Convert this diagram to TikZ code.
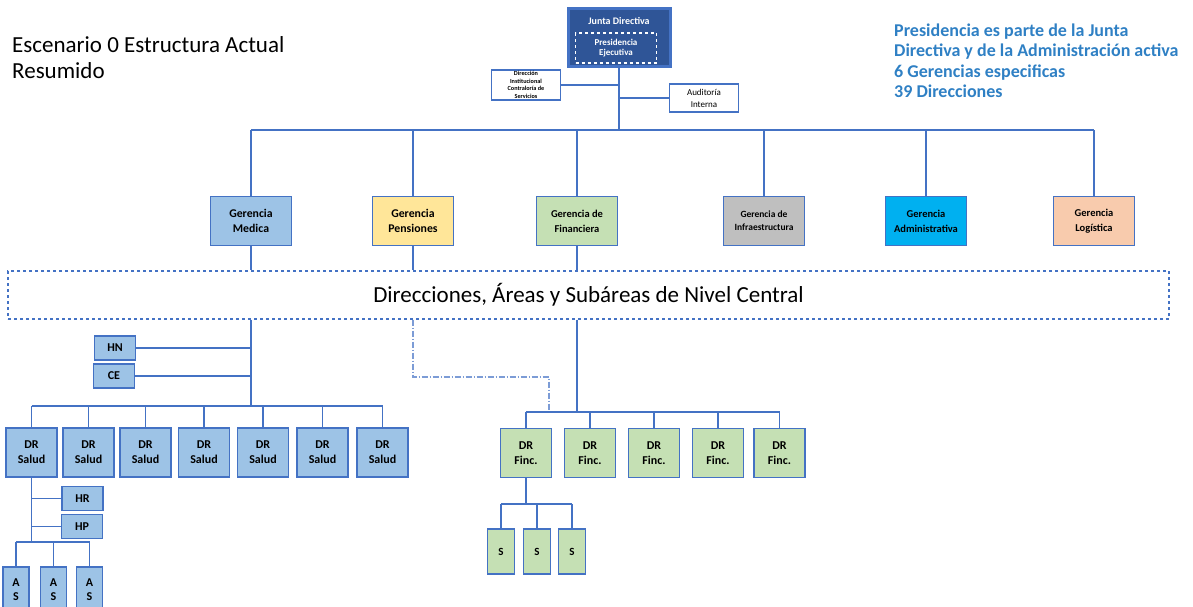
\documentclass[tikz,border=0pt]{standalone}
\usepackage{fontspec}
\setmainfont{Carlito}
\usetikzlibrary{positioning}
\definecolor{bdr}{RGB}{68,114,196}
\definecolor{azul}{RGB}{157,195,230}
\definecolor{amar}{RGB}{255,230,153}
\definecolor{verde}{RGB}{197,224,180}
\definecolor{gris}{RGB}{191,191,191}
\definecolor{cian}{RGB}{0,176,240}
\definecolor{salmon}{RGB}{248,203,173}
\definecolor{junta}{RGB}{47,85,151}
\definecolor{nota}{RGB}{47,128,196}
\tikzset{
  box/.style={draw=bdr, line width=1.6pt, align=center, inner sep=0pt,
    font=\bfseries\fontsize{12}{15}\selectfont},
  gerencia/.style={box, minimum width=81pt, minimum height=49pt,
    font=\bfseries\fontsize{10.5}{15}\selectfont},
  salud/.style={box, fill=azul, minimum width=51pt, minimum height=49pt},
  finc/.style={box, fill=verde, minimum width=51pt, minimum height=49pt},
  chico/.style={box, fill=azul, minimum width=41pt, minimum height=24pt},
  link/.style={draw=bdr, line width=1.8pt},
  punteada/.style={draw=bdr!70, line width=1.2pt, dash pattern=on 6pt off 2pt on 1pt off 2pt}
}
\begin{document}
\begin{tikzpicture}[x=1pt,y=-1pt]
\useasboundingbox (0,0) rectangle (1193,607);

% encabezado y nota
\node[anchor=base west, align=left, inner sep=0pt, font=\fontsize{23}{26}\selectfont] (titulo) at (12,79) {Escenario 0 Estructura Actual\\Resumido};
\node[anchor=base west, align=left, inner sep=0pt, text=nota, font=\bfseries\fontsize{18}{20.5}\selectfont] (nota) at (894,98)
  {Presidencia es parte de la Junta\\Directiva y de la Administración activa\\6 Gerencias especificas\\39 Direcciones};

% junta directiva
\node[fill=junta, draw=bdr, line width=3pt, minimum width=102pt, minimum height=58pt] (jd) at (619,38) {};
\node[text=white, font=\bfseries\fontsize{10}{12}\selectfont] (jdt) at (619,21) {Junta Directiva};
\node[draw=white, dashed, line width=1.2pt, minimum width=81pt, minimum height=30pt, inner sep=0pt, align=center,
  text=white, font=\bfseries\fontsize{9}{10}\selectfont] (pe) at (616,48) {Presidencia\\Ejecutiva};
\node[box, fill=white, minimum width=69pt, minimum height=30pt, font=\bfseries\fontsize{6.2}{7.5}\selectfont] (dic) at (526,85)
  {Dirección\\Institucional\\Contraloría de\\Servicios};
\node[box, fill=white, minimum width=69pt, minimum height=28pt, font=\fontsize{9}{12}\selectfont] (ai) at (704,98) {Auditoría\\Interna};

\coordinate (barra) at (0,130);
\draw[link] (jd.south) -- (jd.south |- barra);
\draw[link] (dic.east) -- (dic.east -| jd.south);
\draw[link] (ai.west) -- (ai.west -| jd.south);

% gerencias
\node[gerencia, fill=azul, font=\bfseries\fontsize{11.8}{15}\selectfont] (gm) at (251,221) {Gerencia\\Medica};
\node[gerencia, fill=amar, font=\bfseries\fontsize{11.8}{15}\selectfont] (gp) at (413,221) {Gerencia\\Pensiones};
\node[gerencia, fill=verde] (gf) at (577,221) {Gerencia de\\Financiera};
\node[gerencia, fill=gris, font=\bfseries\fontsize{9.5}{13}\selectfont] (gi) at (764,221) {Gerencia de\\Infraestructura};
\node[gerencia, fill=cian] (ga) at (926,221) {Gerencia\\Administrativa};
\node[gerencia, fill=salmon] (gl) at (1094,221) {Gerencia\\Logística};

\draw[link] (gm.north |- barra) -- (gl.north |- barra);
\foreach \g in {gm,gp,gf,gi,ga,gl}
  \draw[link] (\g.north) -- (\g.north |- barra);

% nivel central
\node[draw=bdr, dashed, line width=1.2pt, minimum width=1161pt, minimum height=48pt,
  font=\fontsize{23}{26}\selectfont] (dc) at (588.5,295) {Direcciones, Áreas y Subáreas de Nivel Central};
\foreach \g in {gm,gp,gf}
  \draw[link] (\g.south) -- (\g.south |- dc.north);

% bloque medico
\coordinate (bs) at (0,406);
\draw[link] (gm.south |- dc.south) -- (gm.south |- bs);
\node[chico] (hn) at (115,348) {HN};
\node[chico] (ce) at (114,376) {CE};
\draw[link] (hn.east) -- (hn.east -| gm.south);
\draw[link] (ce.east) -- (ce.east -| gm.south);

\foreach \i/\x in {1/31.5,2/88.5,3/145.5,4/204,5/263,6/322.5,7/382.5}
  \node[salud] (s\i) at (\x,452.5) {DR\\Salud};
\draw[link] (s1.north |- bs) -- (s7.north |- bs);
\foreach \i in {1,...,7}
  \draw[link] (s\i.north) -- (s\i.north |- bs);

\coordinate (bas) at (0,542);
\draw[link] (s1.south) -- (s1.south |- bas);
\node[chico] (hr) at (82.5,498.5) {HR};
\node[chico] (hp) at (82,526.5) {HP};
\draw[link] (hr.west) -- (hr.west -| s1.south);
\draw[link] (hp.west) -- (hp.west -| s1.south);

\foreach \i/\x in {1/16,2/53.5,3/89.5}
  \node[box, fill=azul, anchor=north, minimum width=26pt, minimum height=46pt, font=\bfseries\fontsize{12}{14}\selectfont] (a\i) at (\x,566) {A\\S};
\draw[link] (a1.north |- bas) -- (a3.north |- bas);
\foreach \i in {1,2,3}
  \draw[link] (a\i.north) -- (a\i.north |- bas);

% bloque financiero
\coordinate (bf) at (0,412);
\draw[link] (gf.south |- dc.south) -- (gf.south |- bf);
\coordinate (pq) at (549,377);
\draw[punteada] (gp.south |- dc.south) |- (pq) -- (pq |- 0,410);

\foreach \i/\x in {1/526,2/590,3/654,4/718,5/779.5}
  \node[finc] (f\i) at (\x,453) {DR\\Finc.};
\draw[link] (f1.north |- bf) -- (f5.north |- bf);
\foreach \i in {1,...,5}
  \draw[link] (f\i.north) -- (f\i.north |- bf);

\coordinate (bss) at (0,504);
\draw[link] (f1.south) -- (f1.south |- bss);
\foreach \i/\x in {1/501,2/537,3/572}
  \node[box, fill=verde, minimum width=27pt, minimum height=45pt, font=\bfseries\fontsize{11}{13}\selectfont] (t\i) at (\x,551.5) {S};
\draw[link] (t1.north |- bss) -- (t3.north |- bss);
\foreach \i in {1,2,3}
  \draw[link] (t\i.north) -- (t\i.north |- bss);

\end{tikzpicture}
\end{document}
